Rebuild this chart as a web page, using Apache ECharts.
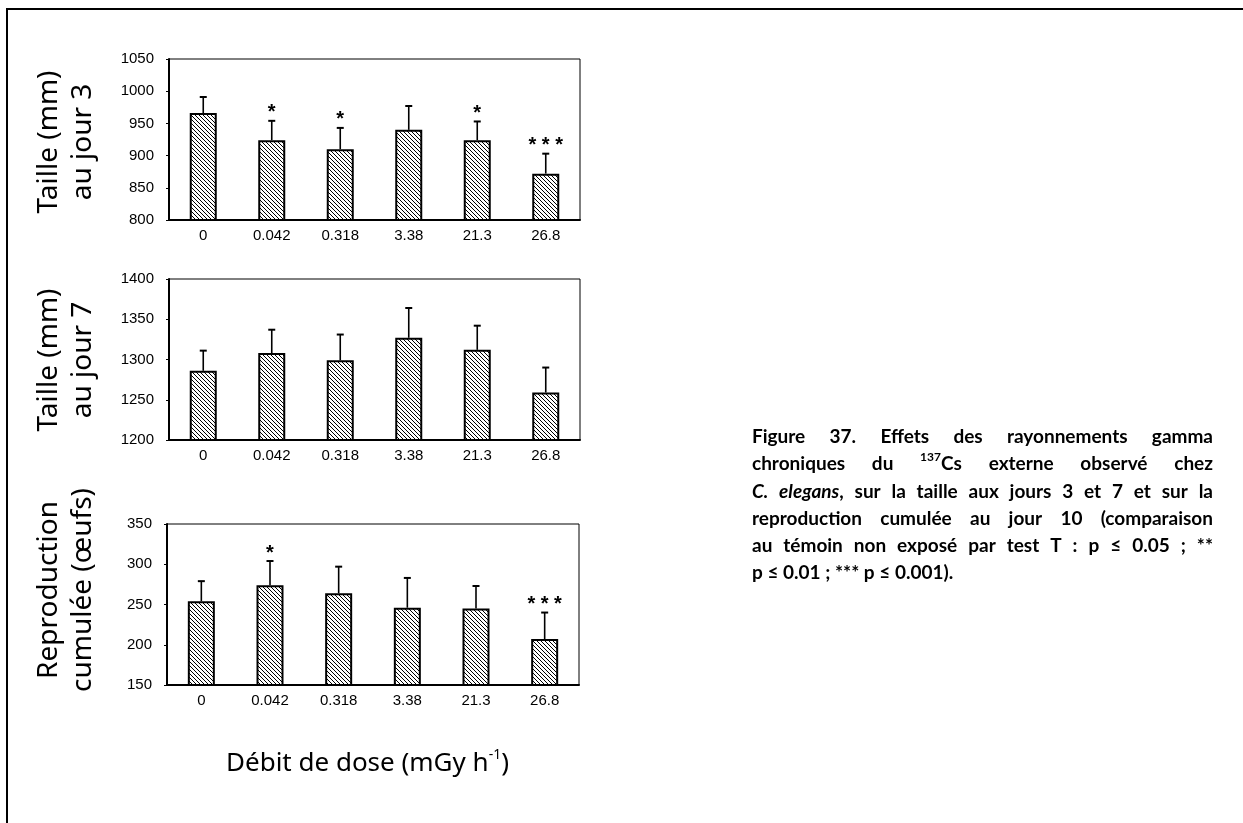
<!DOCTYPE html>
<html>
<head>
<meta charset="utf-8">
<script src="https://cdn.jsdelivr.net/npm/echarts@6/dist/echarts.min.js"></script>
<style>
  html, body { margin: 0; padding: 0; background: #fff; }
  #main { width: 1243px; height: 823px; }
</style>
</head>
<body>
<div id="main"></div>
<script>
// doses (mGy/h) on every x axis
var doses = ['0', '0.042', '0.318', '3.38', '21.3', '26.8'];

// taille au jour 3
var day3Size = [966, 924, 910, 940, 924, 872];
var day3Sd = [25, 30, 33, 37, 29, 31];
var day3Stars = ['', '*', '*', '', '*', '* * *'];

// taille au jour 7
var day7Size = [1286, 1308, 1299, 1327, 1312, 1259];
var day7Sd = [25, 29, 32, 37, 30, 31];
var day7Stars = ['', '', '', '', '', ''];

// reproduction cumulée
var repro = [254, 274, 264, 246, 245, 207];
var reproSd = [25, 30, 33, 37, 28, 33];
var reproStars = ['', '*', '', '', '', '* * *'];

var yRanges = [[800, 1050], [1200, 1400], [150, 350]];

var tickFont = '"Liberation Sans", Arial, sans-serif';
var starFont = 'bold 20px "Liberation Sans", Arial, sans-serif';
var titleFont = '26px "Noto Sans", sans-serif';
var yTitleFont = '28px "Noto Sans", sans-serif';

// motif hachuré des barres
var hatch = document.createElement('canvas');
hatch.width = 4; hatch.height = 4;
var hc = hatch.getContext('2d');
hc.fillStyle = '#fff';
hc.fillRect(0, 0, 4, 4);
hc.strokeStyle = '#000';
hc.lineWidth = 1;
hc.beginPath();
hc.moveTo(-1, -1); hc.lineTo(5, 5);
hc.moveTo(-1, 3); hc.lineTo(1, 5);
hc.moveTo(3, -1); hc.lineTo(5, 1);
hc.stroke();

var mctx = document.createElement('canvas').getContext('2d');
function tw(t, font) {
  mctx.font = font;
  return mctx.measureText(t).width;
}

function xAx(i) {
  return {
    type: 'category', gridIndex: i, data: doses,
    axisLine: { lineStyle: { color: '#000', width: 2 } },
    axisTick: { inside: true, length: 5, lineStyle: { color: '#000', width: 1.5 } },
    axisLabel: { color: '#000', fontSize: 15, fontFamily: tickFont, margin: 8 }
  };
}

function yAx(i) {
  return {
    type: 'value', gridIndex: i, min: yRanges[i][0], max: yRanges[i][1], interval: 50,
    axisLine: { show: true, lineStyle: { color: '#000', width: 2 } },
    axisTick: { show: true, length: 3, lineStyle: { color: '#000' } },
    splitLine: { show: false },
    axisLabel: { color: '#000', fontSize: 15, fontFamily: tickFont, margin: 15,
      formatter: function (v) { return String(v); } }
  };
}

function barSeries(i, vals) {
  return {
    type: 'bar', xAxisIndex: i, yAxisIndex: i, data: vals, barWidth: 27,
    itemStyle: { color: { image: hatch, repeat: 'repeat' }, borderColor: '#000', borderWidth: 2 },
    silent: true
  };
}

function errSeries(i, vals, sds, stars) {
  return {
    type: 'custom', xAxisIndex: i, yAxisIndex: i, z: 5, silent: true,
    data: vals.map(function (v, k) { return [k, v, v + sds[k]]; }),
    renderItem: function (params, api) {
      var p0 = api.coord([api.value(0), api.value(1)]);
      var p1 = api.coord([api.value(0), api.value(2)]);
      var kids = [
        { type: 'line', shape: { x1: p0[0], y1: p0[1], x2: p1[0], y2: p1[1] }, style: { stroke: '#000', lineWidth: 1.6 } },
        { type: 'line', shape: { x1: p1[0] - 3.5, y1: p1[1], x2: p1[0] + 3.5, y2: p1[1] }, style: { stroke: '#000', lineWidth: 2 } }
      ];
      var s = stars[params.dataIndex];
      if (s) {
        kids.push({
          type: 'text', x: p1[0], y: p1[1] + 2,
          style: { text: s, fill: '#000', font: starFont, textAlign: 'center', textVerticalAlign: 'bottom' }
        });
      }
      return { type: 'group', children: kids };
    }
  };
}

var graphics = [
  { type: 'line', shape: { x1: 7, y1: 9, x2: 1243, y2: 9 }, style: { stroke: '#000', lineWidth: 2 } },
  { type: 'line', shape: { x1: 7, y1: 8, x2: 7, y2: 823 }, style: { stroke: '#000', lineWidth: 2 } }
];

// titres des axes y (texte tourné)
var yTitles = ['Taille (mm)\nau jour 3', 'Taille (mm)\nau jour 7', 'Reproduction\ncumulée (œufs)'];
var yTitleY = [142, 360, 590];
yTitles.forEach(function (t, k) {
  graphics.push({
    type: 'text', x: 66, y: yTitleY[k], rotation: Math.PI / 2,
    style: { text: t, font: yTitleFont, fill: '#000', textAlign: 'center', textVerticalAlign: 'middle', lineHeight: 34 }
  });
});

// suite de morceaux de texte posés à la suite
function runs(x, y, parts) {
  parts.forEach(function (p) {
    graphics.push({
      type: 'text', x: x, y: y + (p.dy || 0),
      style: { text: p.t, font: p.font, fill: '#000', textVerticalAlign: 'middle' }
    });
    x += tw(p.t, p.font);
  });
}

// titre de l'axe x
runs(226, 764, [
  { t: 'Débit de dose (mGy h', font: titleFont },
  { t: '-1', font: '14px "Noto Sans", sans-serif', dy: -9 },
  { t: ')', font: titleFont }
]);

// légende de la figure, justifiée
var capFonts = { b: 'bold 19px Lato, sans-serif', i: 'italic bold 19px Lato, sans-serif', s: 'bold 12px Lato, sans-serif' };
var captionLines = [
  { just: true, text: 'Figure 37. Effets des rayonnements gamma' },
  { just: true, text: 'chroniques du ^137^Cs externe observé chez' },
  { just: true, text: '_C._ _elegans_, sur la taille aux jours 3 et 7 et sur la' },
  { just: true, text: 'reproduction cumulée au jour 10 (comparaison' },
  { just: true, text: 'au témoin non exposé par test T : p ≤ 0.05 ; **' },
  { just: false, text: 'p ≤ 0.01 ; *** p ≤ 0.001).' }
];
var capLeft = 752, capRight = 1213, capTop = 437, capStep = 27.2;

function parseWord(w) {
  var segs = [], cur = '', mode = 'b';
  for (var c of w) {
    if (c === '^' || c === '_') {
      if (cur) segs.push({ t: cur, m: mode });
      cur = '';
      var m = c === '^' ? 's' : 'i';
      mode = mode === m ? 'b' : m;
    } else {
      cur += c;
    }
  }
  if (cur) segs.push({ t: cur, m: mode });
  return segs;
}

captionLines.forEach(function (line, li) {
  var y = capTop + li * capStep;
  var words = line.text.split(' ').map(parseWord);
  var widths = words.map(function (ws) {
    return ws.reduce(function (a, s) { return a + tw(s.t, capFonts[s.m]); }, 0);
  });
  var total = widths.reduce(function (a, b) { return a + b; }, 0);
  var gap = line.just ? (capRight - capLeft - total) / (words.length - 1) : tw(' ', capFonts.b);
  var x = capLeft;
  words.forEach(function (ws, k) {
    runs(x, y, ws.map(function (s) {
      return { t: s.t, font: capFonts[s.m], dy: s.m === 's' ? -7 : 0 };
    }));
    x += widths[k] + gap;
  });
});

var chart = echarts.init(document.getElementById('main'));
chart.setOption({
  animation: false,
  grid: [
    { left: 169, top: 59, width: 411, height: 161, show: true, borderColor: '#000', borderWidth: 1 },
    { left: 169, top: 279, width: 411, height: 161, show: true, borderColor: '#000', borderWidth: 1 },
    { left: 167, top: 524, width: 412, height: 161, show: true, borderColor: '#000', borderWidth: 1 }
  ],
  xAxis: [xAx(0), xAx(1), xAx(2)],
  yAxis: [yAx(0), yAx(1), yAx(2)],
  series: [
    barSeries(0, day3Size), errSeries(0, day3Size, day3Sd, day3Stars),
    barSeries(1, day7Size), errSeries(1, day7Size, day7Sd, day7Stars),
    barSeries(2, repro), errSeries(2, repro, reproSd, reproStars)
  ],
  graphic: graphics
});
</script>
</body>
</html>
